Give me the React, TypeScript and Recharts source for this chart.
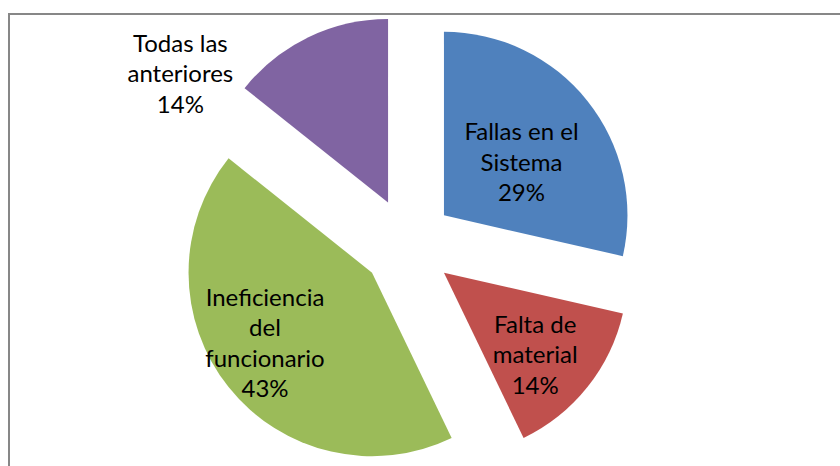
import React from 'react';
import { PieChart, Pie, Cell } from 'recharts';

const categories = [
  'Fallas en el Sistema',
  'Falta de material',
  'Ineficiencia del funcionario',
  'Todas las anteriores',
];
const labelLines = [
  ['Fallas en el', 'Sistema'],
  ['Falta de', 'material'],
  ['Ineficiencia', 'del', 'funcionario'],
  ['Todas las', 'anteriores'],
];
const values = [2, 1, 3, 1];

const colors = ['#4F81BD', '#C0504D', '#9BBB59', '#8064A2'];

// label placement: radius as fraction of outer radius, angle shift from midAngle (deg, clockwise)
const labelPlacement = [
  { r: 0.51, da: 4.5 },
  { r: 0.67, da: 3.5 },
  { r: 0.7, da: 5 },
  { r: 1.33, da: -32.6 },
];

const CX = 408;
const CY = 244;
const R = 183.5;
const EXPLODE = 46;
const LINE_H = 30.5;
const FONT = 'Lato, "Open Sans", sans-serif';

const data = categories.map((name, i) => ({ name, value: values[i] }));
const total = values.reduce((a, b) => a + b, 0);

const offsets = values.map((v, i) => {
  const before = values.slice(0, i).reduce((a, b) => a + b, 0);
  const mid = ((before + v / 2) / total) * 2 * Math.PI;
  return { dx: EXPLODE * Math.sin(mid), dy: -EXPLODE * Math.cos(mid) };
});

const makeLabel = (own: number) => (props: any) => {
  if (props.index !== own) return <g />;
  const { cx, cy, midAngle } = props;
  const p = labelPlacement[own];
  const rad = ((90 - midAngle + p.da) * Math.PI) / 180;
  const x = cx + p.r * R * Math.sin(rad);
  const y = cy - p.r * R * Math.cos(rad) - 2;
  const pct = `${Math.round((values[own] / total) * 100)}%`;
  const lines = [...labelLines[own], pct];
  const top = y - ((lines.length - 1) * LINE_H) / 2;
  return (
    <text
      x={x}
      y={top}
      textAnchor='middle'
      dominantBaseline='central'
      fill='#000'
      fontSize={24}
      fontFamily={FONT}
    >
      {lines.map((l, i) => (
        <tspan key={i} x={x} y={top + i * LINE_H}>
          {l}
        </tspan>
      ))}
    </text>
  );
};

const App = () => {
  return (
    <div
      style={{
        position: 'fixed',
        left: 0,
        top: 0,
        width: 840,
        height: 466,
        overflow: 'hidden',
        background: '#fff',
      }}
    >
      <div
        style={{
          position: 'absolute',
          left: 8,
          top: 13,
          width: 900,
          height: 600,
          border: '2px solid #878787',
        }}
      />
      <div style={{ position: 'absolute', left: 0, top: 0 }}>
        <PieChart width={840} height={466} margin={{ top: 0, right: 0, bottom: 0, left: 0 }}>
          {values.map((_, own) => (
            <Pie
              key={own}
              data={data}
              dataKey='value'
              nameKey='name'
              cx={CX + offsets[own].dx}
              cy={CY + offsets[own].dy}
              outerRadius={R}
              startAngle={90}
              endAngle={-270}
              stroke='none'
              label={makeLabel(own)}
              labelLine={false}
              isAnimationActive={false}
            >
              {data.map((d, i) => (
                <Cell key={d.name} fill={i === own ? colors[i] : 'none'} />
              ))}
            </Pie>
          ))}
        </PieChart>
      </div>
    </div>
  );
};

export default App;
